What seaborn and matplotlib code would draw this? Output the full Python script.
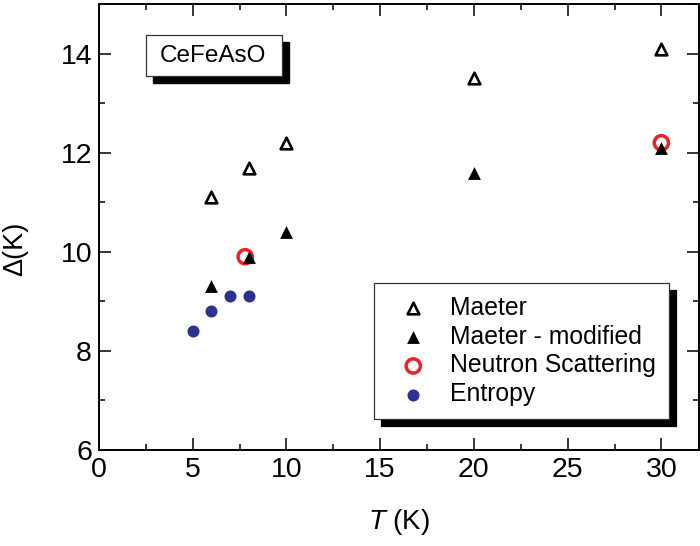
import numpy as np
import matplotlib
matplotlib.use("Agg")
import matplotlib.pyplot as plt
from matplotlib.patches import Rectangle
from matplotlib.ticker import MultipleLocator
import seaborn as sns

sns.set_style("ticks")
plt.rcParams['font.family'] = ['Liberation Sans', 'DejaVu Sans']
plt.rcParams['mathtext.fontset'] = 'custom'
plt.rcParams['mathtext.it'] = 'Liberation Sans:italic'
plt.rcParams['mathtext.rm'] = 'Liberation Sans'
for k in ['text.color', 'axes.labelcolor', 'xtick.color', 'ytick.color']:
    plt.rcParams[k] = 'black'

# ---- data ----
maeter_T = [6, 8, 10, 20, 30]
maeter_gap = [11.1, 11.7, 12.2, 13.5, 14.1]
mod_T = [6, 8, 10, 20, 30]
mod_gap = [9.3, 9.9, 10.4, 11.6, 12.1]
neutron_T = [7.8, 30]
neutron_gap = [9.9, 12.2]
entropy_T = [5, 6, 7, 8]
entropy_gap = [8.4, 8.8, 9.1, 9.1]

fig = plt.figure(figsize=(7, 5.46), dpi=100)
ax = fig.add_axes([0.1414, 0.1758, 0.857, 0.8168])

sns.scatterplot(x=maeter_T, y=maeter_gap, ax=ax, marker='^', s=70,
                facecolor='white', edgecolor='black', linewidth=1.9,
                label='Maeter', zorder=3)
sns.scatterplot(x=mod_T, y=mod_gap, ax=ax, marker='^', s=85,
                color='black', linewidth=0, label='Maeter - modified', zorder=4)
sns.scatterplot(x=neutron_T, y=neutron_gap, ax=ax, marker='o', s=105,
                facecolor='none', edgecolor='#e8232a', linewidth=2.5,
                label='Neutron Scattering', zorder=2)
sns.scatterplot(x=entropy_T, y=entropy_gap, ax=ax, marker='o', s=75,
                color='#2e3192', linewidth=0, label='Entropy', zorder=3)

ax.set_xlim(0, 32)
ax.set_ylim(6, 15)
ax.xaxis.set_major_locator(MultipleLocator(5))
ax.xaxis.set_minor_locator(MultipleLocator(2.5))
ax.yaxis.set_major_locator(MultipleLocator(2))
ax.yaxis.set_minor_locator(MultipleLocator(1))
ax.tick_params(which='both', direction='in', top=True, right=True,
               labelsize=20.5, width=1.1, color='black')
ax.tick_params(which='major', length=8.5, pad=5)
ax.tick_params(which='minor', length=4.5)
for sp in ax.spines.values():
    sp.set_linewidth(1.4)
    sp.set_color('black')

ax.set_xlabel('$T$ (K)', fontsize=20, labelpad=17)
ax.set_ylabel('Δ(K)', fontsize=19.5)
ax.yaxis.set_label_coords(-0.118, 0.45)

# label box with black shadow
ax.add_patch(Rectangle((0.0783 + 0.0117, 0.8386 - 0.0157), 0.2267, 0.0919,
                       transform=ax.transAxes, facecolor='black',
                       edgecolor='black', zorder=5))
ax.add_patch(Rectangle((0.0783, 0.8386), 0.2267, 0.0919,
                       transform=ax.transAxes, facecolor='white',
                       edgecolor='#333333', linewidth=0.9, zorder=6))
ax.text(0.19, 0.8845, 'CeFeAsO', transform=ax.transAxes, fontsize=17.5,
        ha='center', va='center', zorder=7)

leg = ax.legend(loc='upper left', bbox_to_anchor=(0.458, 0.374),
                fontsize=17.8, frameon=True, fancybox=False, framealpha=1,
                edgecolor='#333333', borderpad=0.5, labelspacing=0.2,
                handlelength=2.2, handletextpad=0.4, borderaxespad=0,
                shadow={'ox': 5, 'oy': -5, 'color': 'black', 'alpha': 1})
leg.get_frame().set_linewidth(0.9)

fig.savefig('out.png', dpi=100)
